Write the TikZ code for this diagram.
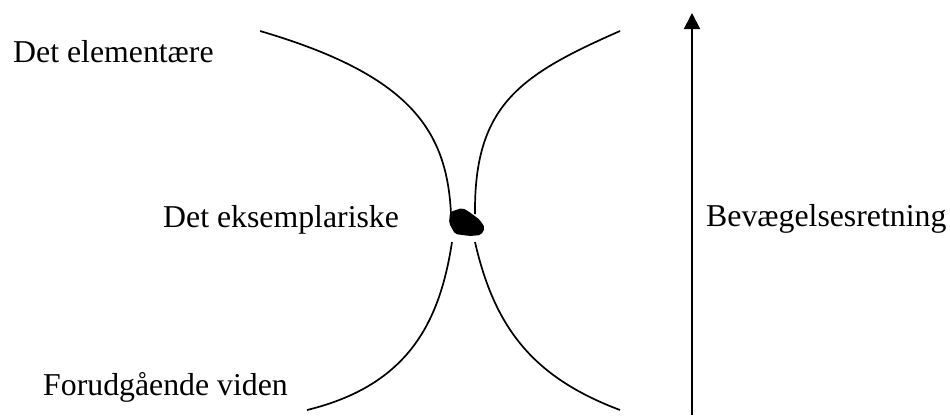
\documentclass[tikz,border=0pt]{standalone}
\usepackage{fontspec}
\setmainfont{Liberation Serif}
\usepackage{tikz}
\usetikzlibrary{arrows.meta, positioning}

\begin{document}
\begin{tikzpicture}[
    x=1pt,y=-1pt,
    lbl/.style={inner sep=0pt,anchor=base west,font=\fontsize{31.8}{38}\selectfont},
    curve/.style={line width=1.7pt},
    arrow/.style={-{Triangle[length=16pt,width=16pt]},line width=1.8pt}
  ]
  \useasboundingbox (0,0) rectangle (950,415);

  % Labels
  \node[lbl] (elem) at (13,62) {Det elementære};
  \node[lbl] (eksem) at (163,227) {Det eksemplariske};
  \node[lbl] (forud) at (43,395) {Forudgående viden};
  \node[lbl] (retn) at (706,226) {Bevægelsesretning};

  % Funnel curves
  \draw[curve] (260,31) .. controls (410,75) and (447,130) .. (451,214);
  \draw[curve] (620,31) .. controls (520,75) and (474,105) .. (475,214);
  \draw[curve] (452,242) .. controls (440,320) and (410,385) .. (307,410);
  \draw[curve] (475,242) .. controls (495,330) and (535,378) .. (620,410);

  % Blob
  \fill[rounded corners=2pt] (450,212) -- (462,208) -- (468,211) -- (480,220)
    -- (485,228) -- (481,235) -- (470,236) -- (455,234) -- (449,223) -- cycle;

  % Direction arrow
  \coordinate (base) at (692,415);
  \coordinate (tip) at (692,13);
  \draw[arrow] (base) -- (tip);
\end{tikzpicture}
\end{document}
